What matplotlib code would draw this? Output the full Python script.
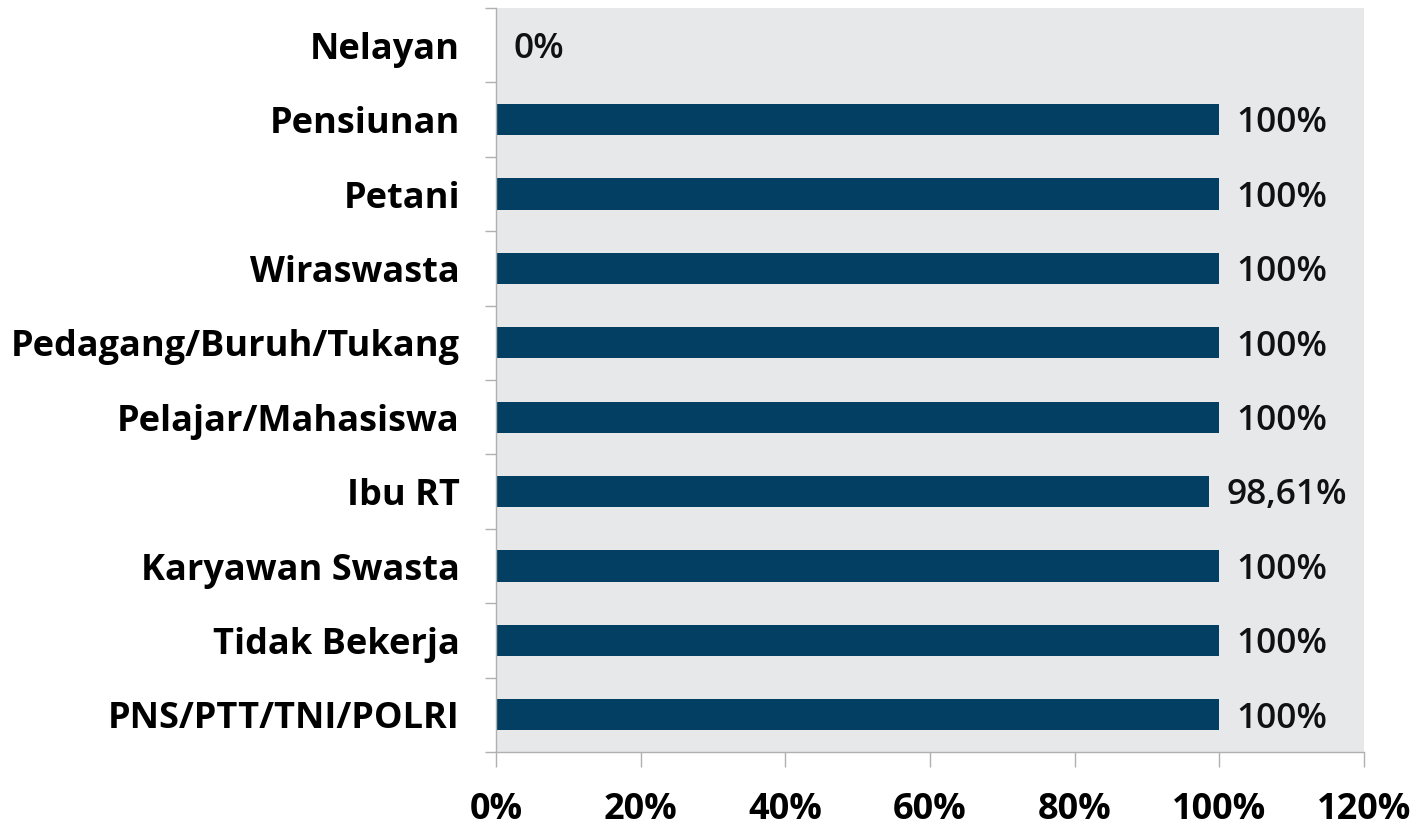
import matplotlib
matplotlib.use('Agg')
import matplotlib.pyplot as plt
import numpy as np

plt.rcParams['font.family'] = ['Open Sans', 'DejaVu Sans']

# occupation categories, listed top to bottom
categories = ['Nelayan', 'Pensiunan', 'Petani', 'Wiraswasta', 'Pedagang/Buruh/Tukang',
              'Pelajar/Mahasiswa', 'Ibu RT', 'Karyawan Swasta', 'Tidak Bekerja',
              'PNS/PTT/TNI/POLRI']
values = [0, 100, 100, 100, 100, 100, 98.61, 100, 100, 100]
value_labels = ['0%', '100%', '100%', '100%', '100%', '100%', '98,61%', '100%', '100%', '100%']
xticks = [0, 20, 40, 60, 80, 100, 120]
xtick_labels = ['0%', '20%', '40%', '60%', '80%', '100%', '120%']

fig = plt.figure(figsize=(14.16, 8.34), dpi=100)
ax = fig.add_axes([0.3503, 0.0983, 0.6130, 0.8921])
ax.set_facecolor('#e6e8ea')

y = np.arange(len(categories))
ax.barh(y, values, height=0.42, color='#033f63', zorder=2)

# value labels sit just right of each bar end
for yi, v, lab in zip(y, values, value_labels):
    ax.text(v + 2.4, yi + 0.05, lab, va='center', ha='left', fontsize=25.5,
            fontweight='semibold', color='#111111', zorder=3)

ax.set_xlim(0, 120)
ax.set_ylim(len(categories) - 0.5, -0.5)

ax.set_xticks(xticks)
ax.set_xticklabels(xtick_labels, fontsize=26, fontweight='bold')
ax.set_yticks(y)
ax.set_yticklabels(categories, fontsize=26, fontweight='bold')
ax.set_yticks(np.arange(len(categories) + 1) - 0.5, minor=True)

ax.tick_params(axis='y', which='major', length=0, pad=26)
ax.tick_params(axis='y', which='minor', length=8, width=1, color='#b0b0b0')
ax.tick_params(axis='x', which='major', length=11, width=1, color='#b0b0b0', pad=18)

for side in ['top', 'right']:
    ax.spines[side].set_visible(False)
for side in ['left', 'bottom']:
    ax.spines[side].set_color('#b0b0b0')
    ax.spines[side].set_linewidth(1)

fig.savefig('out.png', dpi=100)
